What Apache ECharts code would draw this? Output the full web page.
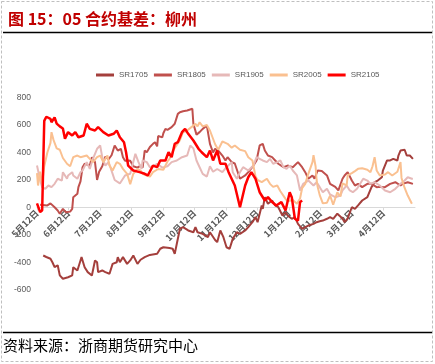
<!DOCTYPE html>
<html><head><meta charset="utf-8">
<script src="https://cdn.jsdelivr.net/npm/echarts@6/dist/echarts.min.js"></script>
<style>html,body{margin:0;padding:0;background:#fff}#c{width:435px;height:364px}</style>
</head><body><div id="c"></div>
<script>
// x = days since 5月12日 (one season, 0..365)
const tickLabels = ['5月12日','6月12日','7月12日','8月12日','9月12日','10月12日','11月12日','12月12日','1月12日','2月12日','3月12日','4月12日'];
const seriesNames = ['SR1705','SR1805','SR1905','SR2005','SR2105'];
const seriesColors = ['#A43F3C','#C0504D','#E6B9B8','#FAC090','#FF0000'];

const sr1705 = [[6,-349],[9,-360],[13,-373],[15,-400],[17,-434],[20,-420],[22,-494],[25,-518],[30,-507],[34,-494],[35,-434],[39,-458],[42,-385],[43,-361],[46,-434],[49,-470],[53,-494],[56,-385],[58,-398],[59,-470],[63,-458],[66,-470],[70,-482],[73,-410],[77,-398],[78,-361],[80,-398],[83,-361],[87,-410],[90,-385],[93,-349],[97,-410],[100,-380],[104,-361],[109,-345],[116,-337],[119,-300],[122,-289],[128,-295],[131,-300],[133,-337],[135,-264],[138,-155],[141,-143],[146,-167],[151,-180],[153,-143],[155,-180],[160,-192],[165,-216],[167,-180],[172,-236],[174,-252],[177,-167],[180,-216],[183,-289],[186,-300],[189,-228],[193,-180],[196,-192],[201,-167],[204,-143],[208,-107],[211,-70],[213,-107],[217,15],[218,-10],[220,75],[223,27],[227,51],[230,15],[233,2],[237,-58],[240,-34],[242,-58],[246,-82],[249,-70],[252,-119],[256,-155],[259,-143],[262,-131],[267,-119],[270,-107],[273,-100],[276,-95],[280,-82],[283,-70],[286,-82],[290,-45],[295,-80],[297,-107],[300,-80],[304,2],[307,-10],[310,15],[314,51],[319,75],[323,148],[326,184],[329,196],[333,220],[334,269],[338,342],[341,342],[344,354],[348,342],[349,378],[351,414],[355,420],[357,378],[360,378],[363,354]];

const sr1805 = [[3,20],[10,15],[13,30],[17,2],[20,-22],[22,-45],[25,-10],[28,-35],[32,-30],[34,-10],[35,75],[39,100],[40,148],[42,190],[44,293],[46,318],[49,310],[51,305],[53,366],[56,330],[58,200],[60,260],[63,300],[66,370],[69,350],[72,380],[75,451],[78,414],[81,427],[83,366],[85,340],[88,342],[90,340],[93,300],[97,290],[100,305],[102,290],[104,414],[106,402],[109,440],[112,463],[114,475],[116,445],[117,520],[121,510],[122,540],[124,572],[126,565],[130,584],[133,609],[136,681],[138,693],[141,700],[145,705],[150,718],[151,609],[154,530],[157,548],[160,572],[164,596],[167,463],[170,400],[172,427],[175,414],[179,378],[182,342],[184,366],[188,330],[191,320],[196,209],[201,233],[204,257],[209,305],[212,342],[215,451],[218,463],[220,414],[223,378],[227,366],[230,342],[233,318],[238,293],[242,305],[247,293],[252,330],[256,293],[259,257],[262,209],[266,233],[268,209],[271,269],[275,265],[280,233],[283,172],[288,150],[291,124],[295,209],[297,233],[300,257],[304,196],[307,160],[310,172],[314,148],[319,172],[323,172],[328,148],[331,150],[336,148],[341,172],[346,184],[351,160],[353,172],[358,184],[363,172]];

const sr1905 = [[0,305],[3,200],[5,148],[8,136],[11,160],[14,148],[17,172],[20,209],[24,196],[25,257],[29,209],[30,233],[34,257],[35,233],[39,209],[42,257],[44,269],[48,330],[51,281],[54,354],[58,427],[61,451],[63,366],[66,305],[69,330],[71,290],[75,200],[80,175],[85,233],[90,245],[95,390],[98,330],[101,281],[102,342],[106,330],[109,293],[112,300],[116,318],[121,290],[126,300],[130,330],[135,342],[140,366],[145,378],[148,451],[151,430],[154,342],[157,293],[160,245],[164,225],[167,300],[170,260],[174,280],[179,257],[183,293],[188,330],[189,257],[193,209],[196,257],[199,293],[204,269],[209,305],[212,366],[215,354],[218,342],[222,330],[225,354],[228,318],[232,330],[235,342],[238,293],[241,281],[244,305],[247,269],[251,233],[254,124],[257,172],[262,196],[267,160],[270,184],[273,148],[276,111],[280,136],[283,95],[288,75],[293,87],[295,124],[299,160],[302,124],[305,111],[309,136],[312,172],[315,209],[319,196],[322,172],[326,184],[331,160],[336,124],[341,111],[346,136],[351,172],[355,196],[358,220],[362,209],[363,210]];

const sr2005 = [[0,250],[1,160],[3,260],[5,175],[7,300],[10,400],[13,470],[14,548],[16,490],[19,430],[22,420],[25,360],[29,318],[32,300],[35,366],[39,378],[42,366],[48,378],[51,354],[54,330],[58,366],[61,378],[64,330],[68,378],[70,305],[73,269],[77,330],[80,318],[83,281],[87,245],[90,170],[93,245],[97,281],[100,269],[102,245],[106,233],[109,225],[112,257],[117,280],[122,275],[126,335],[128,354],[131,410],[135,455],[138,490],[141,548],[144,555],[150,590],[153,609],[155,590],[157,620],[160,590],[164,600],[167,560],[172,460],[175,420],[179,480],[182,470],[184,463],[188,435],[191,451],[196,420],[201,410],[204,366],[208,342],[211,225],[213,200],[217,184],[222,209],[225,172],[228,150],[232,160],[235,118],[240,63],[242,45],[247,55],[251,27],[254,65],[256,140],[259,172],[262,245],[266,330],[267,380],[269,300],[270,200],[271,150],[273,90],[276,30],[280,35],[283,87],[286,20],[290,111],[293,80],[295,175],[299,160],[300,233],[304,250],[307,265],[310,281],[314,285],[319,275],[322,257],[324,300],[326,366],[328,269],[331,233],[336,240],[339,257],[343,233],[348,260],[351,330],[352,215],[355,142],[358,87],[362,27]];

const sr2105 = [[0,30],[3,-34],[5,-20],[7,630],[9,660],[13,645],[14,620],[17,655],[19,610],[22,590],[25,575],[27,500],[30,548],[34,524],[37,548],[40,511],[45,524],[48,609],[51,572],[56,560],[59,584],[64,548],[69,524],[74,536],[77,560],[80,511],[84,475],[86,402],[88,305],[93,269],[99,257],[104,245],[107,233],[112,305],[116,293],[119,342],[124,342],[127,402],[130,366],[133,463],[136,475],[140,548],[143,572],[146,536],[151,487],[156,427],[159,402],[164,366],[167,414],[170,342],[174,414],[177,318],[182,318],[185,257],[191,160],[196,2],[201,160],[204,220],[207,257],[211,209],[215,111],[220,51],[223,75],[227,40],[231,15],[236,39],[240,-22],[244,111],[246,75],[249,-82],[252,-95],[254,39],[256,51]];

const allData = [sr1705, sr1805, sr1905, sr2005, sr2105];
const monthStep = 365 / 12;
const yMin = -600, yMax = 800;
const gridTop = 97.5, gridBottom = 74, chartH = 364;
// shift the category axis so it sits on the zero line
const zeroOffset = -((chartH - gridBottom) - (gridTop + (yMax / (yMax - yMin)) * (chartH - gridBottom - gridTop)));

const chart = echarts.init(document.getElementById('c'), null, {renderer: 'canvas'});
const cjk = 'Noto Sans CJK SC';
chart.setOption({
  animation: false,
  backgroundColor: '#fff',
  title: {
    text: '图 15：05 合约基差：柳州',
    left: 3, top: 6,
    textStyle: {color: '#C00000', fontSize: 16, fontWeight: 'bold', fontFamily: cjk}
  },
  graphic: [
    {type: 'rect', shape: {x: 1.5, y: 1.5, width: 431, height: 360}, style: {fill: null, stroke: '#BFBFBF', lineWidth: 1, lineDash: [3, 2]}, silent: true},
    {type: 'line', shape: {x1: 3, y1: 32.5, x2: 432, y2: 32.5}, style: {stroke: '#000', lineWidth: 1.5}},
    {type: 'line', shape: {x1: 3, y1: 332.5, x2: 432, y2: 332.5}, style: {stroke: '#000', lineWidth: 1.5}},
    {type: 'text', left: 3, top: 338, style: {text: '资料来源：浙商期货研究中心', fontSize: 15, fontFamily: cjk, fill: '#000'}}
  ],
  legend: {
    data: seriesNames,
    left: 91, top: 66,
    icon: 'rect', itemWidth: 18, itemHeight: 3, itemGap: 6,
    textStyle: {fontSize: 8, color: '#595959', fontFamily: 'Liberation Sans'}
  },
  grid: {left: 37, right: 20, top: gridTop, bottom: gridBottom},
  xAxis: {
    type: 'value', min: 0, max: 365, interval: monthStep,
    position: 'bottom', offset: zeroOffset,
    axisLine: {onZero: false, lineStyle: {color: '#D9D9D9', width: 1}},
    axisTick: {show: true, length: 3, lineStyle: {color: '#D9D9D9'}},
    splitLine: {show: false},
    axisLabel: {
      rotate: 45, margin: 4, fontSize: 9, fontWeight: 'bold', color: '#595959', fontFamily: cjk,
      showMaxLabel: false,
      formatter: v => tickLabels[Math.round(v / monthStep)] || ''
    }
  },
  yAxis: {
    type: 'value', min: yMin, max: yMax, interval: 200,
    axisLine: {show: false}, axisTick: {show: false}, splitLine: {show: false},
    axisLabel: {fontSize: 8.5, color: '#595959', margin: 6, fontFamily: 'Liberation Sans'}
  },
  series: allData.map((d, i) => ({
    name: seriesNames[i], type: 'line', data: d, showSymbol: false, symbol: 'none',
    lineStyle: {width: i === 4 ? 2.5 : 2, color: seriesColors[i]},
    itemStyle: {color: seriesColors[i]}
  }))
});
</script></body></html>
